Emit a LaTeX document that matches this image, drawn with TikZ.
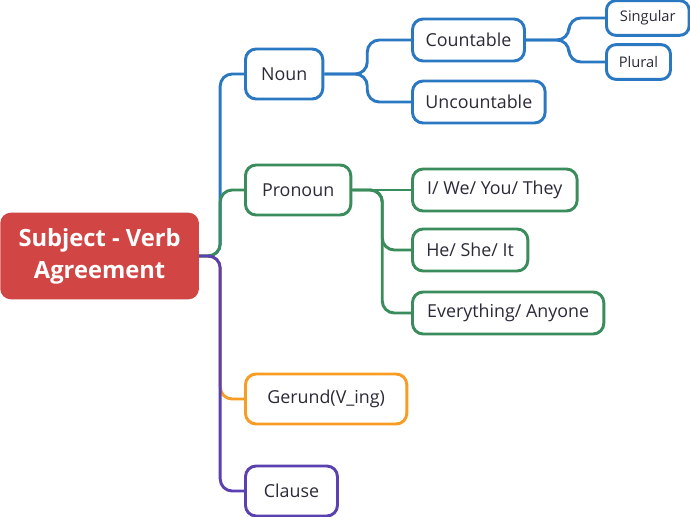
\documentclass[tikz,border=0pt]{standalone}
\usepackage{fontspec}
\setmainfont{Open Sans}
\usetikzlibrary{positioning}

\definecolor{rootred}{HTML}{D24545}
\definecolor{nounblue}{HTML}{2B78C2}
\definecolor{prongreen}{HTML}{3A8C5C}
\definecolor{gerorange}{HTML}{F89C24}
\definecolor{clspurple}{HTML}{5A40B0}
\definecolor{ink}{HTML}{2A2B38}

\tikzset{
  topic/.style={draw, line width=2.2pt, rounded corners=8pt, fill=white, text=ink,
    font=\fontsize{13.4}{16}\selectfont, inner xsep=0pt, anchor=west},
  main/.style={topic, minimum height=37.5pt},
  sub/.style={topic, minimum height=31.5pt},
  leaf/.style={topic, minimum height=26pt, font=\fontsize{11}{13}\selectfont, rounded corners=7pt},
  link/.style={line width=2.2pt, rounded corners=9pt},
}

\begin{document}
\begin{tikzpicture}[x=0.75pt,y=-0.75pt]
\useasboundingbox (0,0) rectangle (690,517);

% root:
\node[fill=rootred, text=white, rounded corners=8pt, anchor=west, align=center,
  minimum width=149pt, minimum height=65pt,
  font=\fontsize{17.8}{24}\selectfont\bfseries] (root) at (0,256) {Subject - Verb\\Agreement};

% 1st tier:
\node[main, draw=nounblue, minimum width=58pt] (noun) at (244,74) {Noun};
\node[main, draw=prongreen, minimum width=79pt] (pronoun) at (244,190) {Pronoun};
\node[main, draw=gerorange, minimum width=121pt] (gerund) at (244,399) {Gerund(V\_ing)};
\node[main, draw=clspurple, minimum width=69pt] (clause) at (244,491) {Clause};

% 2nd tier:
\node[sub, draw=nounblue, minimum width=84pt] (countable) at (411,40) {Countable};
\node[sub, draw=nounblue, minimum width=99.5pt] (uncountable) at (411,102) {Uncountable};

\node[sub, draw=prongreen, minimum width=123.5pt] (iwe) at (411,190) {I/ We/ You/ They};
\node[sub, draw=prongreen, minimum width=86.5pt] (heshe) at (411,250) {He/ She/ It};
\node[sub, draw=prongreen, minimum width=143.5pt] (everything) at (411,313) {Everything/ Anyone};

% 3rd tier:
\node[leaf, draw=nounblue, minimum width=62pt] (singular) at (605,18) {Singular};
\node[leaf, draw=nounblue, minimum width=48pt] (plural) at (605,62) {Plural};

% branches:
\draw[link, nounblue] (root.east) -- ++(21,0) |- (noun.west);
\draw[link, gerorange] (root.east) -- ++(21,0) |- (gerund.west);
\draw[link, prongreen] (root.east) -- ++(21,0) |- (pronoun.west);
\draw[link, clspurple] (root.east) -- ++(21,0) |- (clause.west);

\draw[link, nounblue] (noun.east) -- ++(43,0) |- (countable.west);
\draw[link, nounblue] (noun.east) -- ++(43,0) |- (uncountable.west);
\draw[link, nounblue] (countable.east) -- ++(43,0) |- (singular.west);
\draw[link, nounblue] (countable.east) -- ++(43,0) |- (plural.west);

\draw[link, prongreen] (pronoun.east) -- (iwe.west);
\draw[link, prongreen] (pronoun.east) -- ++(30,0) |- (heshe.west);
\draw[link, prongreen] (pronoun.east) -- ++(30,0) |- (everything.west);

\end{tikzpicture}
\end{document}
